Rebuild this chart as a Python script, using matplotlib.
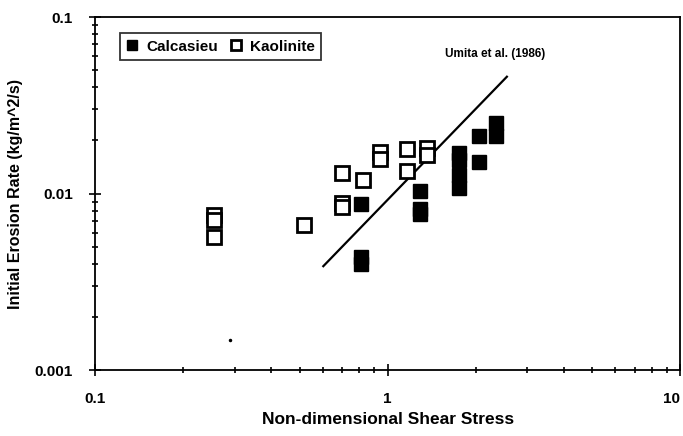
import matplotlib
matplotlib.use('Agg')
import matplotlib.pyplot as plt
from matplotlib.ticker import LogLocator, NullFormatter, FixedLocator, FixedFormatter

plt.rcParams['font.family'] = ['Liberation Sans', 'DejaVu Sans']
plt.rcParams['font.weight'] = 'bold'

# Calcasieu (filled squares)
calc_x = [0.81, 0.81, 0.81, 1.29, 1.29, 1.29, 1.76, 1.76, 1.76, 1.76, 2.06, 2.06, 2.35, 2.35]
calc_y = [0.0087, 0.0044, 0.0040, 0.0103, 0.0082, 0.0077, 0.0170, 0.0155, 0.0127, 0.0108,
          0.0213, 0.0150, 0.0250, 0.0213]

# Kaolinite (open squares)
kaol_x = [0.255, 0.255, 0.255, 0.518, 0.70, 0.70, 0.70, 0.827, 0.945, 0.945, 1.163, 1.163, 1.36, 1.36]
kaol_y = [0.0076, 0.0071, 0.0057, 0.0066, 0.0088, 0.0084, 0.0131, 0.0119, 0.0173, 0.0157,
          0.0179, 0.0134, 0.0181, 0.0166]

# Umita et al. (1986) line
umita_x = [0.603, 2.556]
umita_y = [0.00388, 0.0459]

# stray mark on the scan
stray_x = [0.29]
stray_y = [0.00148]

fig = plt.figure(figsize=(6.83, 4.36), dpi=100)
ax = fig.add_axes([0.139, 0.151, 0.857, 0.810])

ax.plot(umita_x, umita_y, 'k-', lw=1.6)
ax.plot(calc_x, calc_y, 's', color='black', markersize=10, linestyle='none', label='Calcasieu')
ax.plot(kaol_x, kaol_y, 's', markerfacecolor='white', markeredgecolor='black',
        markeredgewidth=2, markersize=9.5, linestyle='none', label='Kaolinite')
ax.plot(stray_x, stray_y, 'k.', markersize=3)

ax.set_xscale('log')
ax.set_yscale('log')
ax.set_xlim(0.1, 10)
ax.set_ylim(0.001, 0.1)

ax.xaxis.set_major_locator(FixedLocator([0.1, 1, 10]))
ax.xaxis.set_major_formatter(FixedFormatter(['0.1', '1', '10']))
ax.yaxis.set_major_locator(FixedLocator([0.001, 0.01, 0.1]))
ax.yaxis.set_major_formatter(FixedFormatter(['0.001', '0.01', '0.1']))
ax.xaxis.set_minor_locator(LogLocator(base=10, subs=range(2, 10)))
ax.yaxis.set_minor_locator(LogLocator(base=10, subs=range(2, 10)))
ax.xaxis.set_minor_formatter(NullFormatter())
ax.yaxis.set_minor_formatter(NullFormatter())

ax.tick_params(which='both', direction='inout', width=1.2)
ax.tick_params(which='major', length=8, labelsize=11, pad=12)
ax.tick_params(which='minor', length=5)
for s in ax.spines.values():
    s.set_linewidth(1.3)

fig.canvas.draw()
ax.get_xticklabels()[-1].set_horizontalalignment('right')

ax.set_xlabel('Non-dimensional Shear Stress', fontsize=12.5, fontweight='bold', labelpad=4)
ax.set_ylabel('Initial Erosion Rate (kg/m^2/s)', fontsize=11.5, fontweight='bold', labelpad=8)

ax.text(2.33, 0.0616, 'Umita et al. (1986)', fontsize=8.5, fontweight='bold', ha='center', va='center')

leg = ax.legend(loc='upper left', bbox_to_anchor=(0.03, 0.975), ncol=2, frameon=True,
                fancybox=False, edgecolor='black', fontsize=11, handlelength=0.8,
                handletextpad=0.5, columnspacing=0.8, borderpad=0.4, markerscale=0.7)
leg.get_frame().set_linewidth(1.3)

fig.savefig('out.png', dpi=100)
